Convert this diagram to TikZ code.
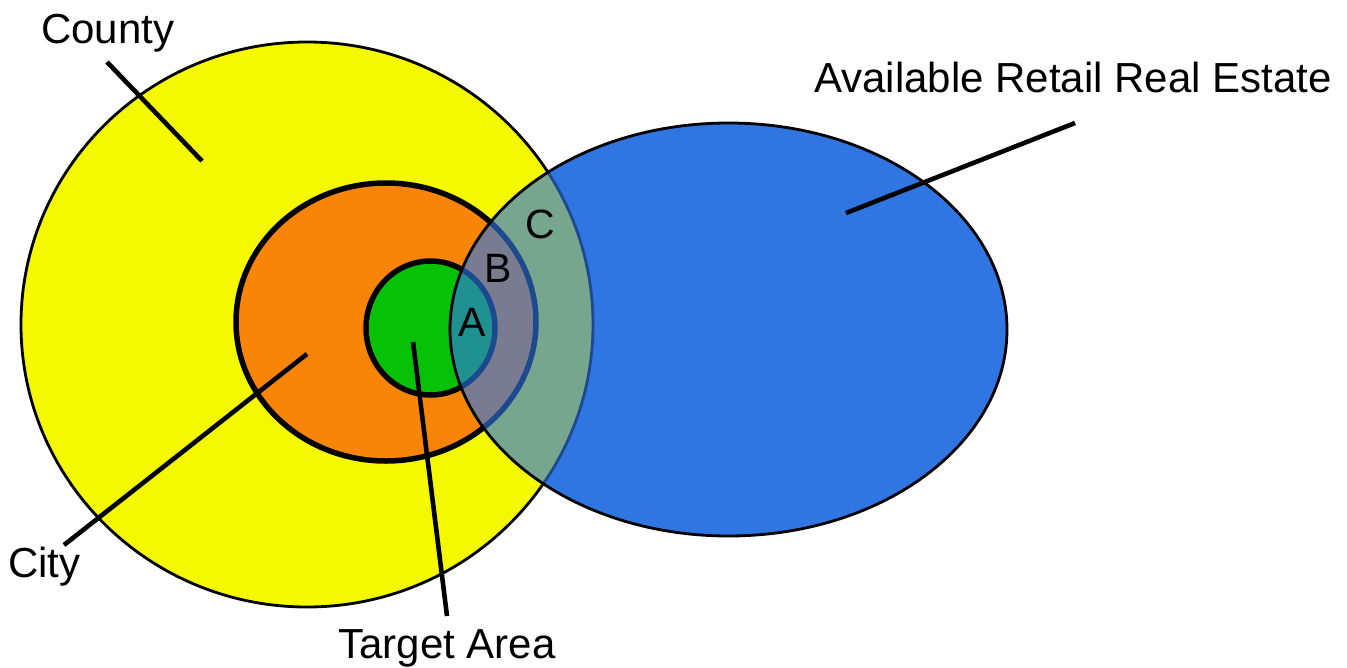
\documentclass[tikz,border=0pt]{standalone}
\usepackage{fontspec}
\setmainfont{Liberation Sans}
\definecolor{countyyellow}{RGB}{245,249,0}
\definecolor{cityorange}{RGB}{248,133,8}
\definecolor{targetgreen}{RGB}{6,193,6}
\definecolor{retailblue}{RGB}{47,118,226}
\tikzset{
  thinrim/.style={draw=black, line width=2.8pt},
  thickrim/.style={draw=black, line width=5.5pt},
  pointer/.style={draw=black, line width=4.6pt},
  label/.style={inner sep=0pt, font=\fontsize{42}{48}\selectfont},
  region/.style={inner sep=0pt, anchor=base, font=\fontsize{41}{46}\selectfont},
}
\begin{document}
\begin{tikzpicture}[x=1pt, y=-1pt]
  \useasboundingbox (0,0) rectangle (1347,667);

  % opaque base of the real-estate area
  \fill[retailblue] (728.5,329.5) ellipse [x radius=278.5pt, y radius=206.5pt];

  % nested geographic areas
  \path[fill=countyyellow, thinrim] (307,324.5) ellipse [x radius=286pt, y radius=282.5pt];
  \path[fill=cityorange, thickrim] (386,322) ellipse [x radius=150pt, y radius=139pt];
  \path[fill=targetgreen, thickrim] (430.5,328) ellipse [x radius=64.5pt, y radius=67pt];

  % translucent real-estate area over the overlaps
  \path[fill=retailblue, fill opacity=0.63, thinrim] (728.5,329.5) ellipse [x radius=278.5pt, y radius=206.5pt];

  % overlap letters
  \node[region] (ra) at (472,336) {A};
  \node[region] (rb) at (498.5,282) {B};
  \node[region] (rc) at (540,238) {C};

  % labels
  \node[label, anchor=base west] (county) at (41,43) {County};
  \node[label, anchor=base west] (retail) at (814,92) {Available Retail Real Estate};
  \node[label, anchor=base west] (city) at (8,577) {City};
  \node[label, anchor=base] (target) at (447,658) {Target Area};

  % pointer ends
  \coordinate (countyA) at (107,62);
  \coordinate (countyB) at (202,161);
  \coordinate (retailA) at (1075,123);
  \coordinate (retailB) at (846,213);
  \coordinate (cityA) at (64,545);
  \coordinate (cityB) at (307,354);
  \coordinate (targetA) at (447,616);
  \coordinate (targetB) at (413,342);

  \draw[pointer] (countyA) -- (countyB);
  \draw[pointer] (retailA) -- (retailB);
  \draw[pointer] (cityA) -- (cityB);
  \draw[pointer] (targetA) -- (targetB);
\end{tikzpicture}
\end{document}
